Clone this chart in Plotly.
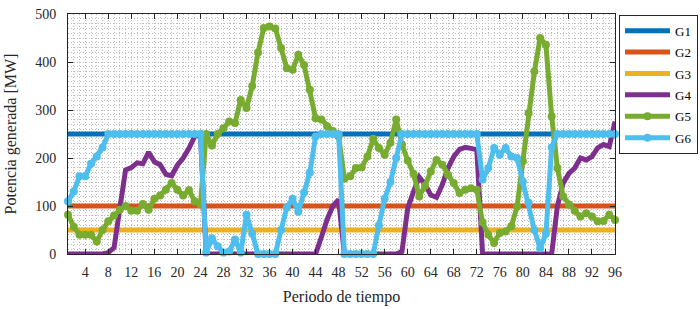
import plotly.graph_objects as go

periods = list(range(1, 97))

g1 = [250] * 96
g2 = [100] * 96
g3 = [50] * 96

g4 = [0, 0, 0, 0, 0, 0, 0, 3, 13, 95,
      175, 180, 190, 188, 212, 192, 186, 166, 163, 185,
      200, 220, 245, 250, 0, 0, 0, 0, 0, 0,
      0, 0, 0, 0, 0, 0, 0, 0, 0, 0,
      0, 0, 0, 0, 35, 72, 100, 113, 0, 0,
      0, 0, 0, 0, 0, 0, 0, 0, 5, 95,
      130, 160, 145, 123, 118, 144, 179, 203, 218, 222,
      220, 217, 0, 0, 0, 0, 0, 0, 0, 0,
      0, 0, 0, 0, 0, 100, 148, 168, 179, 200,
      196, 203, 221, 228, 224, 276]

g5 = [82, 57, 40, 40, 40, 26, 50, 68, 80, 92,
      100, 90, 90, 104, 92, 115, 122, 134, 148, 134,
      122, 133, 110, 103, 250, 226, 250, 262, 276, 273,
      321, 304, 350, 420, 471, 474, 470, 429, 387, 384,
      415, 394, 342, 283, 280, 266, 256, 245, 157, 162,
      179, 180, 203, 240, 221, 207, 232, 280, 228, 195,
      167, 120, 142, 172, 196, 186, 165, 148, 127, 134,
      137, 134, 66, 40, 23, 44, 47, 58, 99, 193,
      294, 380, 450, 436, 287, 179, 120, 103, 90, 78,
      85, 78, 68, 69, 82, 71]

g6 = [110, 130, 162, 162, 188, 203, 222, 250, 250, 250,
      250, 250, 250, 250, 250, 250, 250, 250, 250, 250,
      250, 250, 250, 250, 3, 33, 16, 3, 5, 30,
      3, 82, 42, 0, 0, 0, 0, 50, 97, 115,
      88, 128, 170, 245, 250, 250, 250, 250, 0, 0,
      0, 0, 0, 0, 60, 115, 150, 200, 250, 250,
      250, 250, 250, 250, 250, 250, 250, 250, 250, 250,
      250, 250, 155, 179, 221, 207, 221, 203, 200, 151,
      107, 50, 12, 42, 222, 250, 250, 250, 250, 250,
      250, 250, 250, 250, 250, 250]

names = ["G1", "G2", "G3", "G4", "G5", "G6"]
colors = ["#0072BD", "#D95319", "#EDB120", "#7E2F8E", "#77AC30", "#4DBEEE"]
series = [g1, g2, g3, g4, g5, g6]
with_markers = [False, False, False, False, True, True]

x_ticks = list(range(4, 97, 4))
y_ticks = [0, 100, 200, 300, 400, 500]

SERIF = "Liberation Serif, Times New Roman, DejaVu Serif, serif"
AXC = "#262626"
GRIDC = "#bdbdbd"

fig = go.Figure()
for name, col, ys, mk in zip(names, colors, series, with_markers):
    fig.add_trace(go.Scatter(
        x=periods, y=ys, name=name, legendgroup=name,
        mode="lines+markers" if mk else "lines",
        line=dict(color=col, width=5),
        marker=dict(size=8, color=col) if mk else None,
        cliponaxis=False if mk else True,
    ))

grid = dict(showgrid=True, gridcolor=GRIDC, griddash="1px,2px", gridwidth=1)

fig.update_layout(
    width=700, height=309,
    margin=dict(l=68, r=85, t=14, b=55, autoexpand=False),
    paper_bgcolor="white", plot_bgcolor="white",
    font=dict(family=SERIF, color=AXC, size=14),
    showlegend=True,
    legend=dict(
        x=1.0073, xanchor="left", y=0.997, yanchor="top",
        bgcolor="white", bordercolor=AXC, borderwidth=1,
        font=dict(family=SERIF, size=13, color="#000000"),
        itemwidth=45, tracegroupgap=1.5,
    ),
    xaxis=dict(
        range=[1, 96], tickvals=x_ticks, ticks="inside", ticklen=5,
        tickcolor=AXC, showline=True, linecolor=AXC, linewidth=1,
        mirror="ticks", zeroline=False, ticklabelstandoff=5, automargin=False,
        tickfont=dict(family=SERIF, size=14, color=AXC),
        title=dict(text="Periodo de tiempo", font=dict(family=SERIF, size=16, color=AXC), standoff=12),
        minor=dict(dtick=1, tick0=0, showgrid=True, gridcolor=GRIDC, griddash="1px,2px", gridwidth=1),
        **grid,
    ),
    yaxis=dict(
        range=[0, 500], tickvals=y_ticks, ticks="inside", ticklen=5,
        tickcolor=AXC, showline=True, linecolor=AXC, linewidth=1,
        mirror="ticks", zeroline=False, ticklabelstandoff=8, automargin=False,
        tickfont=dict(family=SERIF, size=14, color=AXC),
        title=dict(text="Potencia generada [MW]", font=dict(family=SERIF, size=16, color=AXC), standoff=14),
        minor=dict(dtick=10, tick0=0, showgrid=True, gridcolor=GRIDC, griddash="1px,2px", gridwidth=1),
        **grid,
    ),
)

fig.write_html(
    "out.html",
    config={"displayModeBar": False},
    post_script="document.body.style.margin='0';document.body.style.padding='0';",
)
